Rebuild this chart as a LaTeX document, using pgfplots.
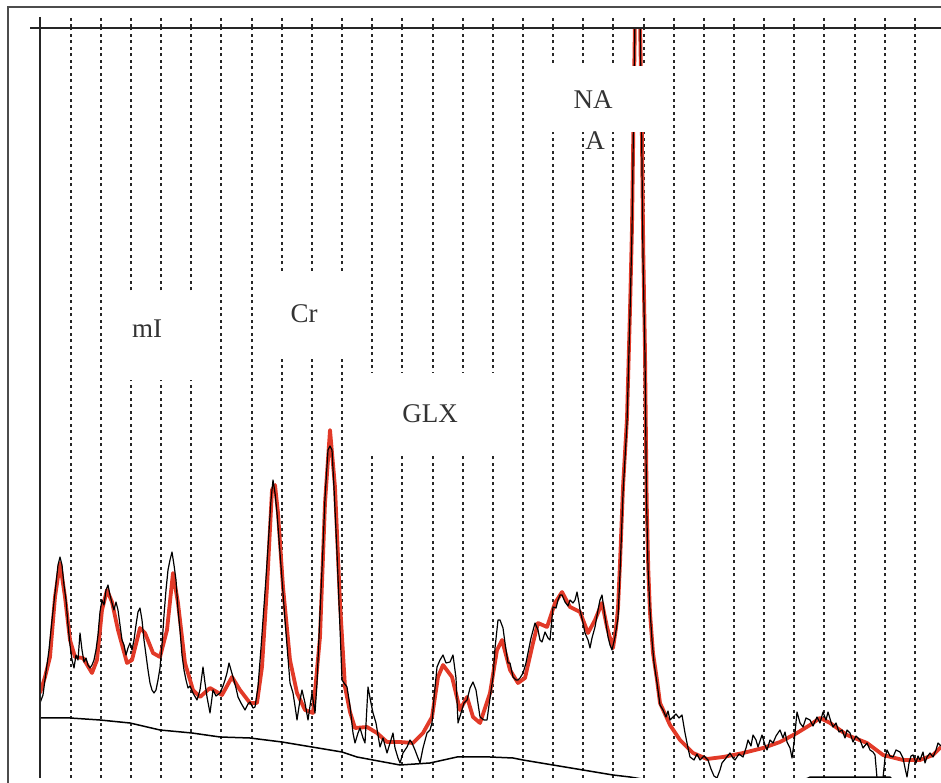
\documentclass[border=0pt]{standalone}
\usepackage{pgfplots}
\pgfplotsset{compat=1.18}
\usepackage{fontspec}
\setmainfont{Liberation Serif}
\definecolor{fitred}{RGB}{226,58,40}
\definecolor{gridgray}{RGB}{40,40,40}
\begin{document}
\begin{tikzpicture}[x=1pt,y=1pt]
\useasboundingbox (0,0) rectangle (941,783);
\begin{axis}[
  at={(40pt,5pt)}, anchor=south west,
  scale only axis, width=901pt, height=750pt,
  xmin=40, xmax=941, ymin=0, ymax=750,
  axis line style={draw=none},
  xtick={70.7,100.85,131,161.15,191.3,221.45,251.6,281.75,311.9,342.05,372.2,402.35,432.5,462.65,492.8,522.95,553.1,583.25,613.4,643.55,673.7,703.85,734,764.15,794.3,824.45,854.6,884.75,914.9},
  xticklabels={}, ytick=\empty,
  xtick pos=right, tick align=outside, major tick length=10pt,
  every tick/.style={line width=2pt, gridgray, dash pattern=on 3.2pt off 3.3pt},
  xmajorgrids,
  grid style={line width=2pt, gridgray, dash pattern=on 3.2pt off 3.3pt},
]
% baseline
\addplot[black, line width=1.5pt] coordinates {
(40,60)(70,60)(100,58)(130,55)(160,48)(192,45)(220,41)(250,40)(282,36)(312,31)
(342,26)(357,21)(373,18)(400,13)(430,15)(457,21)(490,21)(513,20)(523,18)(553,13)
(583,8)(613,3)(630,1)(660,-4)(720,-6)(780,-3)(806,-1)(810,0.8)(890,0.8)(894,-3)
};
% fitted spectrum (red)
\addplot[fitred, line width=3.8pt, line join=round] coordinates {
(40,85)(45,101)(50,121)(55,181)(60,215)(65,181)(70,138)(75,121)(83,120)(92,105)
(97,118)(102,168)(107,188)(112,176)(118,148)(127,115)(132,118)(140,150)(145,145)
(153,125)(160,121)(167,148)(173,205)(178,175)(185,115)(193,88)(200,81)(210,90)
(222,83)(232,101)(240,88)(250,75)(257,75)(262,111)(267,191)(272,288)(275,293)
(278,265)(283,191)(290,118)(297,85)(305,68)(313,65)(320,141)(325,275)(330,348)
(335,291)(340,175)(345,91)(350,66)(355,50)(367,51)(377,45)(387,36)(400,36)(413,35)
(423,45)(432,61)(438,101)(443,113)(452,101)(460,68)(467,81)(473,61)(480,55)(490,85)
(497,128)(502,138)(510,108)(518,95)(525,100)(533,135)(538,155)(547,151)(555,175)
(562,186)(570,171)(580,166)(588,145)(595,158)(602,175)(607,151)(610,140)(613,130)
(616,150)(618,170)(620,215)(623,291)(627,360)(630,468)(632,551)(633.5,660)(635,760)
(637.5,800)(640,760)(641.7,658)(643.3,525)(645,425)(646.7,275)(648.3,208)(650,165)
(653,125)(657,98)(660,75)(670,53)(680,38)(693,25)(707,19)(723,21)(743,25)(763,30)
(780,36)(797,45)(810,53)(820,60)(830,55)(847,43)(867,35)(883,23)(903,18)(920,18)
(933,23)(941,31)
};
% measured spectrum (black)
\addplot[black, line width=1.2pt, line join=round] coordinates {
(40,75)(43,83)(46,106)(49,128)(52,158)(55,185)(58,213)(60,221)(62,213)(64,193)
(66,178)(68,153)(70,133)(72,118)(74,110)(76,123)(78,118)(80,145)(82,128)(84,116)
(86,120)(88,113)(90,110)(92,113)(94,118)(96,128)(98,143)(100,166)(102,178)(104,173)
(106,188)(108,193)(110,183)(112,175)(114,168)(116,176)(118,168)(120,153)(122,138)
(124,133)(126,123)(128,130)(130,135)(132,128)(134,138)(136,153)(138,166)(140,170)
(142,158)(144,138)(146,123)(148,108)(150,95)(152,88)(154,85)(156,88)(158,98)(160,110)
(162,133)(164,163)(166,188)(168,208)(170,218)(172,226)(174,213)(176,198)(178,168)
(180,148)(182,123)(184,108)(186,98)(188,90)(190,92)(193,85)(197,78)(200,88)(203,111)
(205,95)(207,81)(210,65)(213,88)(216,82)(220,85)(223,92)(225,98)(227,105)(229,115)
(231,108)(233,101)(236,90)(238,81)(241,75)(245,68)(248,74)(250,76)(253,70)(255,71)
(258,91)(261,130)(263,158)(266,200)(268,231)(271,278)(273,298)(275,285)(277,265)
(280,225)(283,185)(285,158)(288,120)(290,95)(293,85)(295,72)(297,58)(300,78)(302,88)
(305,75)(308,58)(310,72)(312,85)(315,65)(317,95)(318,118)(320,165)(323,231)(325,280)
(328,328)(330,332)(332,328)(334,290)(337,225)(340,150)(342,98)(344,95)(347,91)(350,72)
(353,45)(355,35)(358,45)(360,50)(363,40)(365,35)(368,91)(370,80)(373,65)(376,55)
(380,31)(383,40)(387,25)(390,35)(393,45)(395,30)(398,20)(400,15)(403,25)(407,31)
(410,38)(412,35)(415,28)(418,20)(420,15)(423,30)(427,45)(430,48)(432,55)(434,80)
(437,111)(440,118)(443,123)(446,115)(450,116)(453,123)(456,100)(458,55)(461,65)
(464,75)(467,78)(470,90)(473,96)(476,88)(480,61)(484,58)(487,58)(490,80)(493,101)
(495,130)(498,158)(500,158)(503,150)(505,135)(508,115)(510,115)(513,101)(516,98)
(518,98)(520,100)(523,105)(526,115)(528,125)(531,140)(535,155)(538,148)(540,138)
(542,136)(545,146)(548,140)(550,138)(553,171)(556,170)(558,178)(560,183)(562,183)
(565,176)(568,172)(570,178)(573,175)(575,178)(577,186)(579,175)(580,168)(583,155)
(585,145)(588,138)(590,130)(592,140)(595,151)(598,168)(600,178)(602,183)(605,161)
(608,141)(610,133)(612,128)(615,141)(618,160)(620,205)(623,285)(627,355)(630,465)
(632,548)(633.5,655)(635,760)(637.5,800)(640,760)(641.5,655)(643,520)(645,420)
(646.5,280)(648,210)(650,168)(652,138)(654,115)(657,95)(660,73)(663,68)(666,61)
(668,67)(670,58)(673,61)(676,64)(679,60)(682,63)(685,45)(688,30)(690,21)(694,18)
(697,24)(700,18)(704,22)(708,18)(711,9)(714,2)(717,0)(720,8)(722,15)(726,20)(730,25)
(733,20)(735,18)(739,24)(743,21)(746,30)(748,38)(751,32)(753,43)(756,38)(758,31)
(761,40)(762,43)(765,33)(767,28)(770,38)(773,35)(776,42)(780,48)(783,40)(785,46)
(787,36)(790,30)(792,20)(794,35)(797,66)(800,55)(803,51)(806,60)(810,58)(813,52)
(817,61)(820,55)(823,66)(826,58)(828,66)(831,56)(833,51)(836,55)(839,46)(842,48)
(845,40)(847,48)(850,45)(853,36)(856,42)(860,38)(863,30)(867,35)(870,28)(873,26)
(875,23)(877,0)(883,0)(885,20)(887,28)(890,22)(893,21)(896,28)(900,26)(903,20)
(905,10)(907,1)(909,15)(911,22)(913,23)(916,15)(918,22)(920,18)(923,26)(925,15)
(927,21)(930,25)(933,21)(936,28)(938,35)(941,32)
};
\end{axis}
% label boxes covering the grid
\fill[white] (125,403) rectangle (206,491);
\fill[white] (275,428) rectangle (350,511);
\fill[white] (364,328) rectangle (500,410);
\fill[white] (545,651) rectangle (665,717);
\node[font=\fontsize{27}{30}\selectfont, text=black!80] at (147,454) {mI};
\node[font=\fontsize{27}{30}\selectfont, text=black!80] at (304,469) {Cr};
\node[font=\fontsize{27}{30}\selectfont, text=black!80] at (430,369) {GLX};
\node[font=\fontsize{27}{30}\selectfont, text=black!80] at (593,683) {NA};
\node[font=\fontsize{27}{30}\selectfont, text=black!80] at (595,642) {A};
% axis lines
\draw[line width=2.6pt, black!85] (30,755) -- (941,755);
\draw[line width=2.6pt, black!85] (40,766) -- (40,5);
% outer frame
\draw[line width=2pt, black!70] (8,0) -- (8,776) -- (941,776);
\end{tikzpicture}
\end{document}
